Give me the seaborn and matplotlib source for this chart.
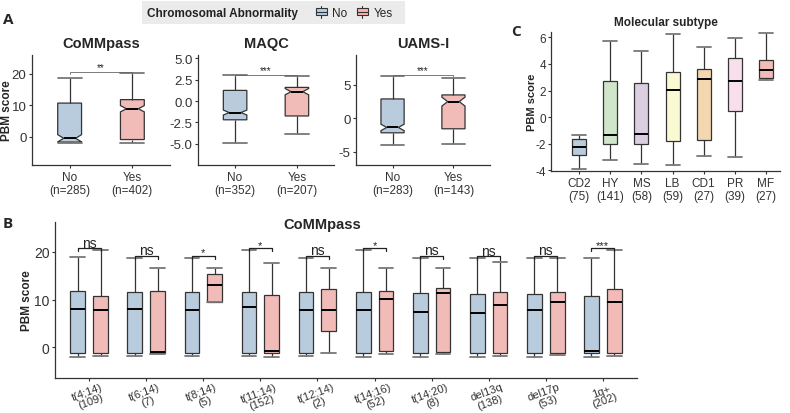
import numpy as np
import pandas as pd
import seaborn as sns
import matplotlib.pyplot as plt
from matplotlib.patches import Rectangle, Patch
from matplotlib.lines import Line2D
from matplotlib.legend_handler import HandlerBase

sns.set_theme(style="ticks")
plt.rcParams['font.family'] = ['Liberation Sans', 'DejaVu Sans']
plt.rcParams['axes.unicode_minus'] = False

# ---- data (box stats: low whisker, Q1, median, Q3, high whisker) ----
status = ["No", "Yes"]
pal = {"No": "#B3CDE3", "Yes": "#FBB4AE"}

commpass_no = [-1.9, -1.7, -0.5, 10.7, 18.7]
commpass_yes = [-1.9, -0.9, 8.9, 11.8, 20.4]
commpass_n = [285, 402]
maqc_no = [-4.9, -2.2, -1.35, 1.25, 3.0]
maqc_yes = [-3.85, -1.75, 1.1, 1.6, 2.95]
maqc_n = [352, 207]
uams_no = [-4.0, -2.2, -1.4, 2.85, 6.3]
uams_yes = [-3.9, -1.6, 2.45, 3.45, 5.9]
uams_n = [283, 143]
a_sig = ["**", "***", "***"]

b_groups = ["t(4;14)", "t(6;14)", "t(8;14)", "t(11;14)", "t(12;14)",
            "t(14;16)", "t(14;20)", "del13q", "del17p", "1q+"]
b_n = [109, 7, 5, 152, 2, 52, 8, 138, 53, 202]
b_no = [[-2.1, -1.2, 8.0, 11.7, 19.0],
        [-1.9, -1.2, 8.0, 11.5, 18.8],
        [-1.9, -1.2, 7.9, 11.5, 18.8],
        [-1.9, -1.2, 8.4, 11.6, 20.4],
        [-1.9, -1.2, 7.8, 11.5, 18.8],
        [-2.1, -1.2, 7.7, 11.5, 20.4],
        [-2.1, -1.2, 7.3, 11.3, 18.8],
        [-2.1, -1.2, 7.1, 11.1, 18.7],
        [-2.0, -1.2, 7.8, 11.2, 18.8],
        [-2.1, -1.2, -0.8, 10.8, 18.7]]
b_yes = [[-1.9, -1.2, 7.8, 10.8, 20.4],
         [-1.4, -1.3, -1.0, 11.8, 16.6],
         [9.5, 9.5, 13.0, 15.3, 16.6],
         [-2.1, -1.2, -0.85, 11.0, 17.6],
         [-1.2, 3.3, 7.8, 12.2, 16.7],
         [-1.4, -0.9, 10.1, 11.7, 16.6],
         [-1.4, -1.1, 11.3, 12.5, 16.7],
         [-1.8, -1.2, 8.85, 11.6, 17.8],
         [-1.7, -1.2, 9.4, 11.6, 18.7],
         [-1.8, -1.2, 9.5, 12.3, 20.4]]
b_sig = ["ns", "ns", "*", "*", "ns", "*", "ns", "ns", "ns", "***"]

c_types = ["CD2", "HY", "MS", "LB", "CD1", "PR", "MF"]
c_n = [75, 141, 58, 59, 27, 39, 27]
c_stats = [[-3.93, -2.88, -2.25, -1.63, -1.38],
           [-3.25, -2.0, -1.38, 2.75, 5.75],
           [-3.55, -2.0, -1.3, 2.55, 5.0],
           [-3.58, -1.8, 2.07, 3.37, 6.25],
           [-2.93, -1.75, 2.83, 3.6, 5.3],
           [-3.0, 0.45, 2.75, 4.42, 5.92],
           [2.82, 2.92, 3.55, 4.32, 6.32]]
c_colors = ["#B3CDE3", "#CCEBC5", "#DECBE4", "#FFFFCC", "#FED9A6", "#FDDAEC", "#FBB4AE"]

W, H = 790, 414
fig = plt.figure(figsize=(W / 100, H / 100), dpi=100)


def px_axes(l, t, r, b):
    return fig.add_axes([l / W, 1 - b / H, (r - l) / W, (b - t) / H])


line_kw = dict(linecolor="#333333", linewidth=0.9, whis=np.inf,
               medianprops=dict(color="black", linewidth=1.4),
               capprops=dict(color="#777777", linewidth=1.3))
tick_col = "#333333"


def style(ax, fs=8.5):
    sns.despine(ax=ax)
    ax.tick_params(length=2.5, pad=1.5, labelsize=fs, colors=tick_col, width=0.8)
    for s in ["left", "bottom"]:
        ax.spines[s].set_color("#333333")
        ax.spines[s].set_linewidth(0.9)
    ax.set_xlabel("")
    ax.set_ylabel("")


# ---- panel A ----
a_sets = [("CoMMpass", commpass_no, commpass_yes, commpass_n, [0, 10, 20], (-9, 26)),
          ("MAQC", maqc_no, maqc_yes, maqc_n, [-5, -2.5, 0, 2.5, 5], (-7.5, 5.4)),
          ("UAMS-I", uams_no, uams_yes, uams_n, [-5, 0, 5], (-7, 9.4))]
a_pos = [(32, 170), (198, 334), (356, 490)]
for k, (name, s_no, s_yes, ns, yt, yl) in enumerate(a_sets):
    ax = px_axes(a_pos[k][0], 56, a_pos[k][1], 166)
    vals = np.concatenate([np.repeat(s_no, ns[0] // 5), np.repeat(s_yes, ns[1] // 5)])
    grp = ["No"] * (5 * (ns[0] // 5)) + ["Yes"] * (5 * (ns[1] // 5))
    df = pd.DataFrame({"status": grp, "score": vals})
    sns.boxplot(data=df, x="status", y="score", hue="status", palette=pal,
                width=0.38, notch=True, capwidths=0.38, legend=False, ax=ax, **line_kw)
    ax.set_xlim(-0.6, 1.6)
    ax.set_ylim(*yl)
    ax.set_yticks(yt)
    ax.set_xticks([0, 1])
    ax.set_xticklabels([f"{s}\n(n={n})" for s, n in zip(status, ns)])
    style(ax)
    ax.tick_params(axis="y", labelsize=9.5)
    ax.set_title(name, fontsize=10.5, fontweight="bold", pad=5.5)
    top = max(s_no[-1], s_yes[-1]) + 0.008 * (yl[1] - yl[0])
    tip = 0.02 * (yl[1] - yl[0])
    ax.plot([0, 0, 1, 1], [top - tip, top, top, top - tip], color="#666666", lw=0.6)
    ax.text(0.5, top, a_sig[k], ha="center", va="bottom", fontsize=7, color="#222222")
    if k == 0:
        ax.set_ylabel("PBM score", fontsize=8.5, fontweight="bold")
        ax.yaxis.set_label_coords(-(32 - 13) / 138, 0.5)

# legend for panel A
fig.patches.append(Rectangle((142 / W, 1 - 25 / H), 263 / W, 23 / H, transform=fig.transFigure,
                             facecolor="#EBEBEB", edgecolor="none", zorder=0))
fig.text(147 / W, 1 - 14 / H, "Chromosomal Abnormality", fontsize=8.5, fontweight="bold",
         va="center", ha="left", color="#222222")


class BoxKey(HandlerBase):
    def create_artists(self, legend, orig_handle, xd, yd, w, h, fs, trans):
        x0, y0 = -xd, -yd
        wh = Line2D([x0 + w / 2] * 2, [y0 - 0.15 * h, y0 + 1.15 * h], color="#333333", lw=0.8, transform=trans)
        bx = Rectangle((x0, y0 + 0.15 * h), w, 0.7 * h, facecolor=orig_handle.get_facecolor(),
                       edgecolor="#333333", lw=0.8, transform=trans)
        md = Line2D([x0, x0 + w], [y0 + 0.5 * h] * 2, color="#333333", lw=0.8, transform=trans)
        return [wh, bx, md]


handles = [Patch(facecolor=pal[s]) for s in status]
fig.legend(handles, status, loc="center left", bbox_to_anchor=(310 / W, 1 - 14 / H), ncol=2,
           frameon=False, fontsize=8.5, handlelength=0.9, handleheight=0.9, handletextpad=0.5,
           columnspacing=0.8, borderpad=0, handler_map={Patch: BoxKey()})

# ---- panel B ----
axb = px_axes(55, 223, 637, 379)
rows = []
for g, s_no, s_yes in zip(b_groups, b_no, b_yes):
    rows += [(g, "No", v) for v in s_no] + [(g, "Yes", v) for v in s_yes]
dfb = pd.DataFrame(rows, columns=["group", "status", "score"])
sns.boxplot(data=dfb, x="group", y="score", hue="status", order=b_groups, hue_order=status,
            palette=pal, width=0.8, gap=0.35, capwidths=0.26, legend=False, ax=axb, **line_kw)
axb.set_xlim(-0.6, 9.6)
axb.set_ylim(-6.5, 26.3)
axb.set_yticks([0, 10, 20])
axb.set_xticks(range(len(b_groups)))
axb.set_xticklabels([f"{g}\n({n})" for g, n in zip(b_groups, b_n)], rotation=20,
                    ha="center", va="top", linespacing=1.0)
style(axb, 8)
axb.tick_params(axis="y", labelsize=10)
axb.tick_params(axis="x", pad=0)
axb.set_ylabel("PBM score", fontsize=8.5, fontweight="bold")
axb.yaxis.set_label_coords(-(55 - 33) / 582, 0.5)
for i, (s_no, s_yes) in enumerate(zip(b_no, b_yes)):
    top = max(s_no[-1], s_yes[-1]) + 0.4
    axb.plot([i - 0.2, i - 0.2, i + 0.2, i + 0.2], [top - 0.7, top, top, top - 0.7],
             color="#222222", lw=0.9)
    axb.text(i, top - 0.3, b_sig[i], ha="center", va="bottom",
             fontsize=10 if b_sig[i] == "ns" else 8, color="#222222")
fig.text(322 / W, 1 - 225 / H, "CoMMpass", fontsize=10.5, fontweight="bold", ha="center", va="center")

# ---- panel C ----
axc = px_axes(551, 33, 780, 172)
dfc = pd.DataFrame({"subtype": np.repeat(c_types, 5), "score": np.concatenate(c_stats)})
sns.boxplot(data=dfc, x="subtype", y="score", hue="subtype", order=c_types,
            palette=dict(zip(c_types, c_colors)), width=0.45, capwidths=0.45,
            legend=False, ax=axc, **line_kw)
axc.set_xlim(-0.9, 6.45)
axc.set_ylim(-4.05, 6.4)
axc.set_yticks([-4, -2, 0, 2, 4, 6])
axc.set_xticks(range(len(c_types)))
axc.set_xticklabels([f"{t}\n({n})" for t, n in zip(c_types, c_n)])
style(axc, 8.5)
axc.tick_params(axis="y", pad=1)
axc.set_title("Molecular subtype", fontsize=8.5, fontweight="bold", pad=5)
axc.set_ylabel("PBM score", fontsize=8, fontweight="bold")
axc.yaxis.set_label_coords(-(551 - 537) / 229, 0.5)

# panel letters
for lab, x, y in [("A", 8, 20), ("B", 8, 224), ("C", 516, 32)]:
    fig.text(x / W, 1 - y / H, lab, fontsize=11, fontweight="bold", ha="center", va="center",
             family=["Open Sans", "DejaVu Sans"])

fig.savefig("out.png", dpi=100)
